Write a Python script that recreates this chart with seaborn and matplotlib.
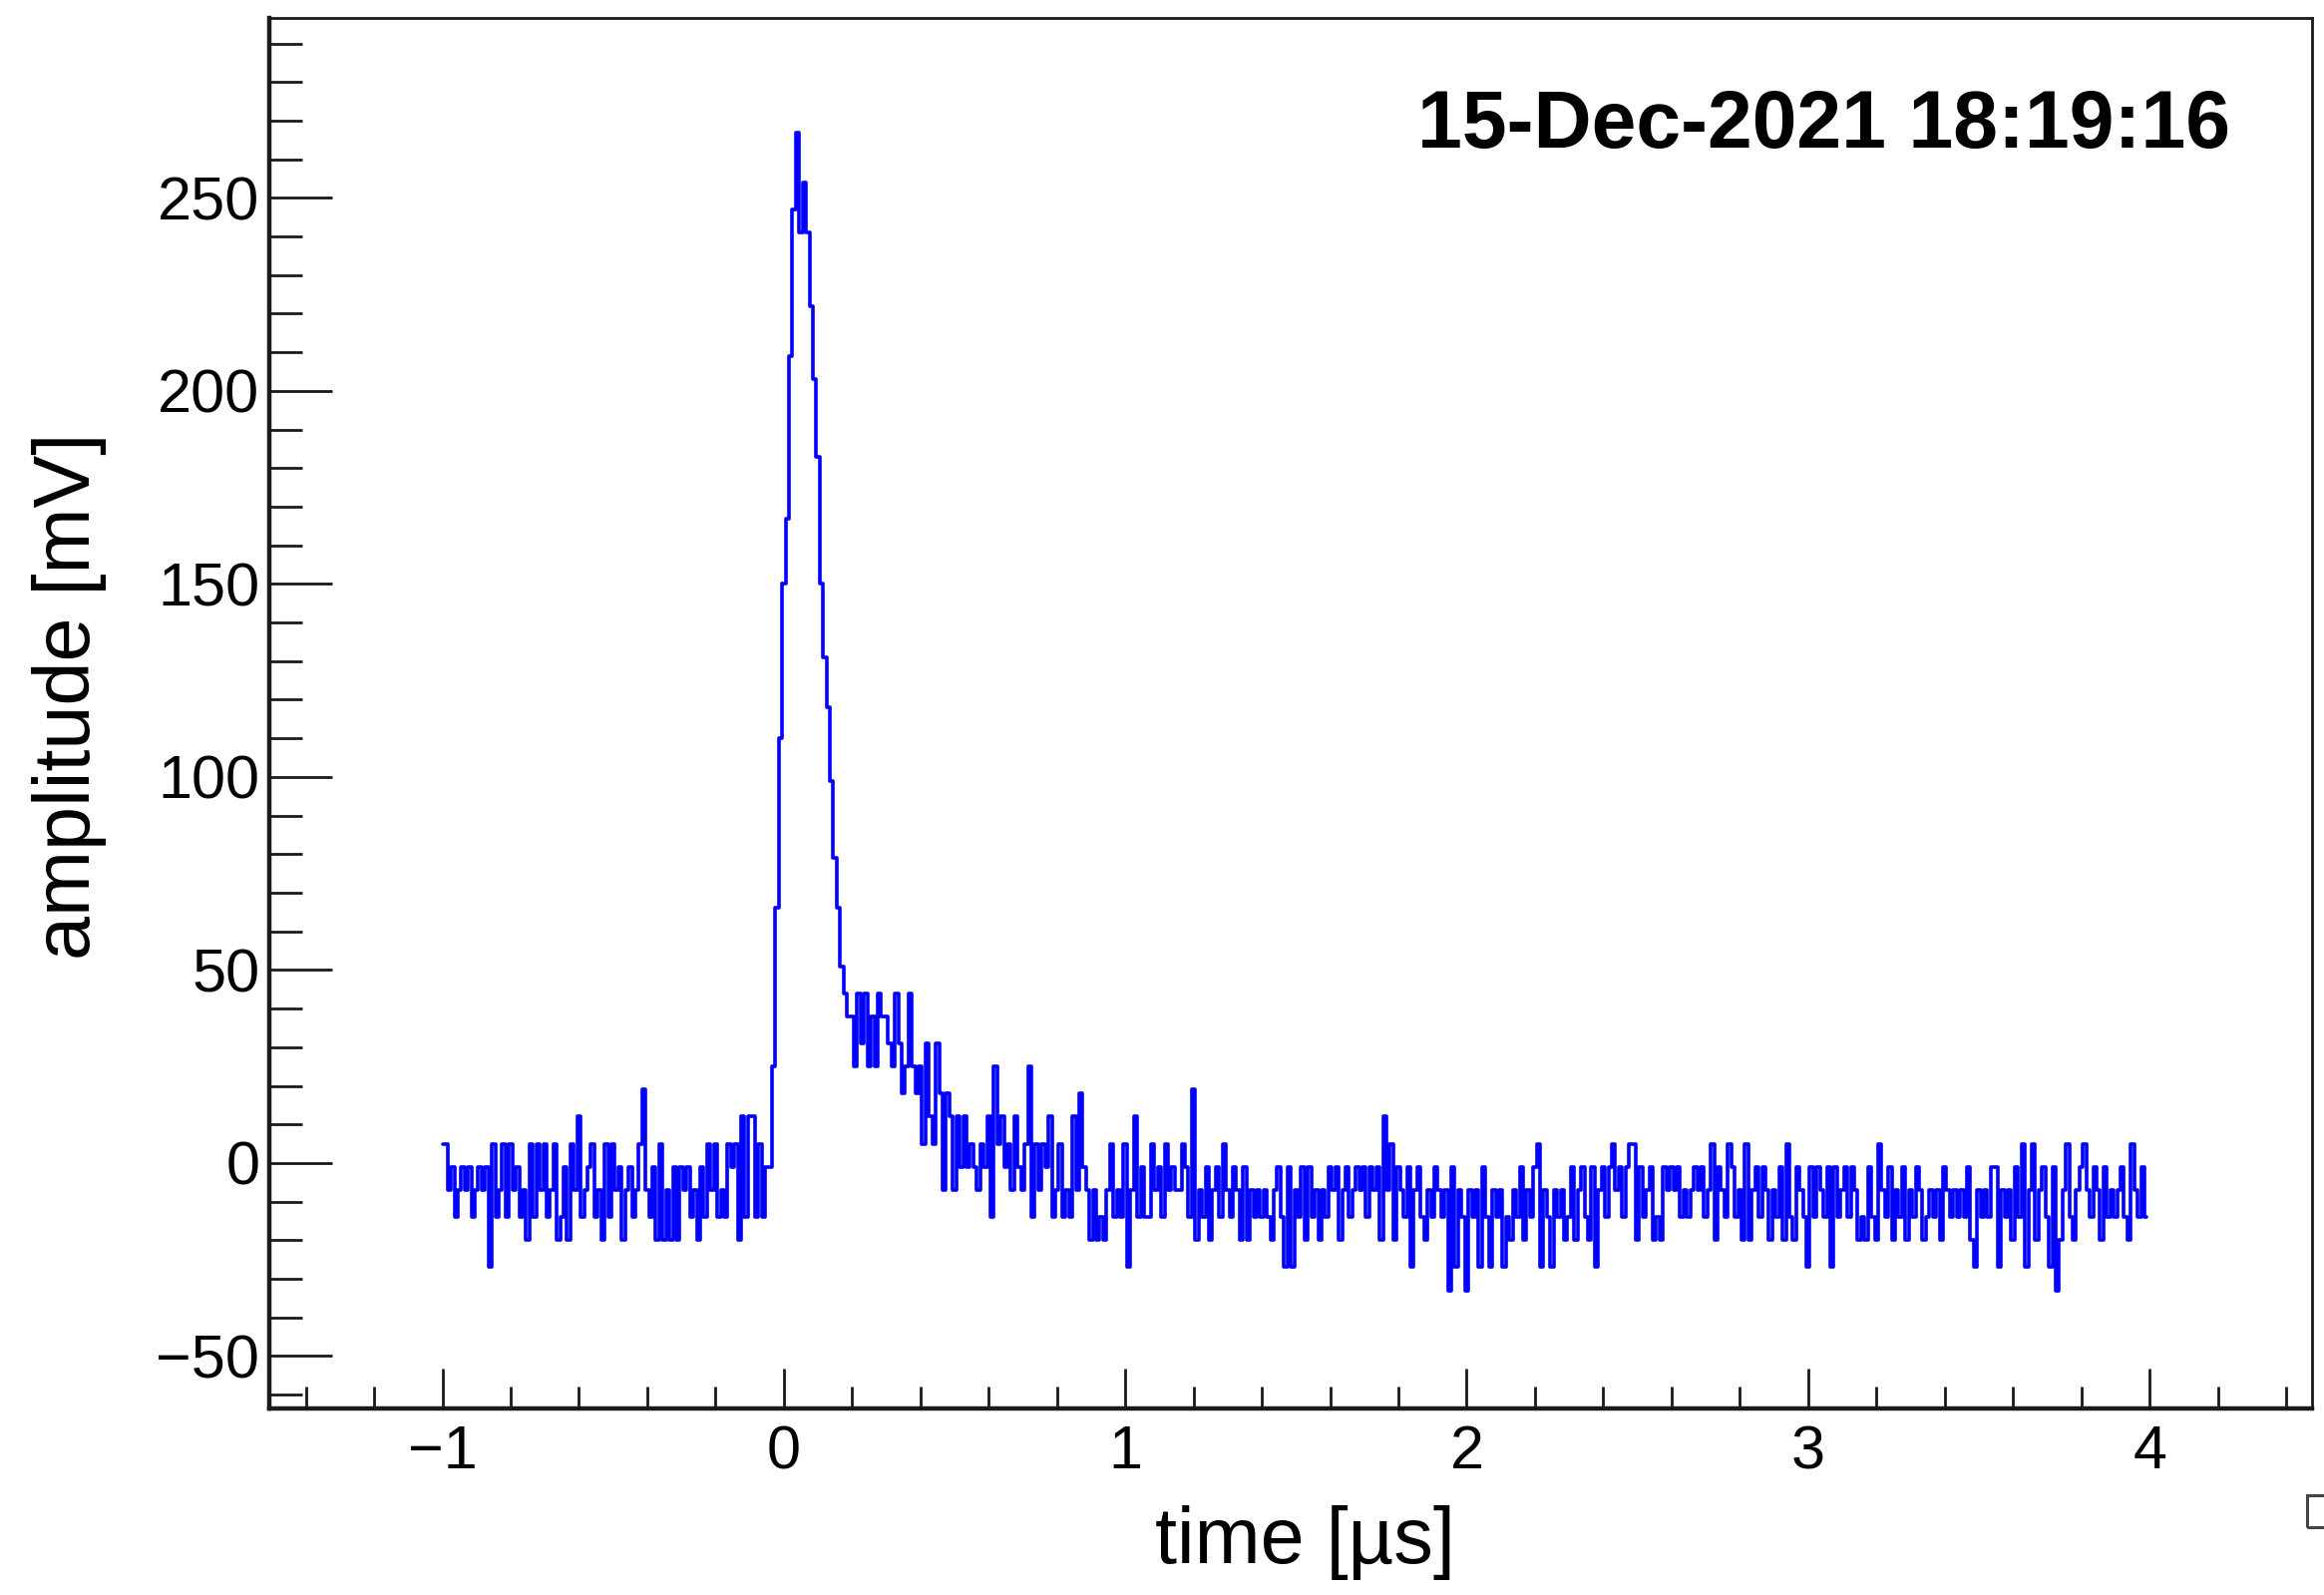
import numpy as np
import pandas as pd
import seaborn as sns
import matplotlib.pyplot as plt
from matplotlib.patches import Rectangle

# scope trace, amplitude in mV, one sample every 10 ns
pre_trigger = [5, 5, -7, -1, -14, -7, -1, -7, -1, -14,
               -7, -1, -7, -1, -27, 5, -14, -7, 5, -14,
               5, -7, -1, -14, -7, -20, 5, -14, 5, -7,
               5, -14, -7, 5, -20, -14, -1, -20, 5, -7,
               12, -14, -7, -1, 5, -14, -7, -20, 5, -14,
               5, -7, -1, -20, -7, -1, -14, -7, 5, 19,
               -7, -14, -1, -20, 5, -20, -7, -20, -1, -20,
               -1, -7, -1, -14, -7, -20, -1, -14, 5, -7,
               5, -14, -7, -14, 5, -1, 5, -20, 12, -14,
               12, 12, -14, 5, -14, -1]
pulse = [-1, 25, 66, 110, 150, 167, 209, 247, 267, 241,
         254, 241, 222, 203, 183, 150, 131, 118, 99, 79,
         66, 51, 44, 38]
tail_early = [38, 25, 44, 31, 44, 25, 38, 25, 44, 38,
              38, 31, 25, 44, 31, 18, 25, 44, 25, 18,
              25, 5, 31, 12, 5, 31, 18, -7, 18, 12,
              -7, 12, -1, 12, -1, 5, -1, -7, 5, -1,
              12, -14, 25, 5, 12, -1, 5, -7, 12, -1,
              -7, 5, 25, -14, 5, -7, 5, -1, 12, -14,
              -7, 5, -14, -7, -14, 12, -7, 18, -1, -7,
              -20, -7, -20, -14, -20, -7, 5, -14, -7, -14,
              5, -27, -7, 12, -14, -1, -14]
tail_mid = [-14, 5, -7, -1, -14, 5, -7, -1, -7, -7,
            5, -1, -14, 19, -20, -7, -14, -1, -20, -7,
            -1, -14, 5, -7, -14, -1, -7, -20, -1, -20,
            -7, -14, -7, -14, -7, -14, -20, -7, -1, -14,
            -27, -1, -27, -7, -14, -1, -20, -1, -14, -7,
            -20, -7, -14, -1, -7, -1, -20, -7, -1, -14,
            -7, -1, -7, -1, -14, -1, -7, -1, -20, 12,
            -7, 5, -20, -1, -7, -14, -1, -27, -7, -1,
            -14, -20, -7, -14, -1, -7, -14, -7, -33, -1,
            -27, -7, -14, -33, -7, -14, -7, -27, -1, -14,
            -27, -7, -14, -7]
tail_late = [-27, -14, -20, -7, -14, -1, -20, -7, -14, -1,
             5, -27, -7, -14, -27, -7, -14, -7, -20, -14,
             -1, -20, -7, -1, -14, -20, -1, -27, -7, -1,
             -14, -1, 5, -7, -1, -14, -1, 5, 5, -20,
             -1, -14, -7, -1, -20, -14, -20, -1, -7, -1,
             -7, -1, -14, -7, -14, -7, -1, -7, -1, -14,
             -7, 5, -20, -1, -7, -14, 5, -1, -14, -7,
             -20, 5, -20, -7, -1, -14, -1, -7, -20, -7,
             -14, -1, -20, 5, -14, -20, -1, -7, -14, -27,
             -1, -14, -1, -7, -14, -1, -27, -1, -14, -7,
             -1, -14, -1]
tail_end = [-7, -20, -14, -20, -1, -14, -20, 5, -7, -14,
            -1, -20, -7, -14, -1, -20, -7, -14, -1, -7,
            -20, -14, -7, -14, -7, -20, -1, -7, -14, -7,
            -14, -7, -14, -1, -20, -27, -7, -14, -7, -14,
            -1, -1, -27, -7, -14, -7, -20, -1, -14, 5,
            -27, -7, 5, -20, -7, -1, -14, -27, -1, -33,
            -20, -7, 5, -14, -20, -7, -1, 5, -7, -14,
            -1, -7, -20, -1, -14, -7, -14, -7, -1, -14,
            -20, 5, -7, -14, -1, -14]

t_start = -1.0   # us
t_step = 0.01    # us

x_major = [-1, 0, 1, 2, 3, 4]
y_major = [-50, 0, 50, 100, 150, 200, 250]
stamp = '15-Dec-2021 18:19:16'

amplitude = pre_trigger + pulse + tail_early + tail_mid + tail_late + tail_end
df = pd.DataFrame({'time': t_start + t_step * np.arange(len(amplitude)),
                   'amplitude': amplitude})

sns.set_style('ticks')
plt.rcParams['font.family'] = ['Liberation Sans', 'DejaVu Sans']

W, H = 2330, 1599
fig = plt.figure(figsize=(W / 100, H / 100), dpi=100)
left, right, top, bottom = 270, 2318, 18, 1411.7
ax = fig.add_axes([left / W, 1 - bottom / H, (right - left) / W, (bottom - top) / H])

# the trace
sns.lineplot(data=df, x='time', y='amplitude', ax=ax, color='#0000ff',
             linewidth=2.6, drawstyle='steps-mid', estimator=None, sort=False)

ax.set_xlim(-1.507, 4.476)
ax.set_ylim(-63.5, 296.6)

# ROOT style ticks, inside, left/bottom only
ax.set_xticks(x_major)
ax.set_xticks(np.arange(-1.4, 4.5, 0.2), minor=True)
ax.set_yticks(y_major)
ax.set_yticks(np.arange(-60, 291, 10), minor=True)
ax.tick_params(axis='both', which='both', direction='in', top=False, right=False,
               colors='#1a1a1a', width=2.0, labelsize=44, labelcolor='black')
ax.tick_params(axis='y', which='major', length=45, pad=7)
ax.tick_params(axis='y', which='minor', length=24)
ax.tick_params(axis='x', which='major', length=29, pad=12)
ax.tick_params(axis='x', which='minor', length=16)

for side in ['left', 'bottom']:
    ax.spines[side].set_linewidth(3.2)
for side in ['top', 'right']:
    ax.spines[side].set_linewidth(2.0)
for sp in ax.spines.values():
    sp.set_color('#1a1a1a')

# axis titles
ax.set_xlabel('time [µs]', fontsize=57, color='black')
ax.set_ylabel('amplitude [mV]', fontsize=57, color='black')
ax.xaxis.set_label_coords(0.507, (bottom - 1547) / (bottom - top))
ax.xaxis.label.set_va('center')
ax.yaxis.set_label_coords((70 - left) / (right - left), (bottom - 698) / (bottom - top))
ax.yaxis.label.set_va('center')

# date stamp
ax.text((2236 - left) / (right - left), (bottom - 127) / (bottom - top), stamp,
        transform=ax.transAxes, ha='right', va='center', fontsize=58,
        fontweight='bold', color='black')

# cut-off box at the bottom right edge
fig.patches.append(Rectangle((2313 / W, 1 - 1531 / H), 30 / W, 32 / H,
                             transform=fig.transFigure, fill=False,
                             edgecolor='#444444', linewidth=2.2))

fig.savefig('out.png', dpi=100)
